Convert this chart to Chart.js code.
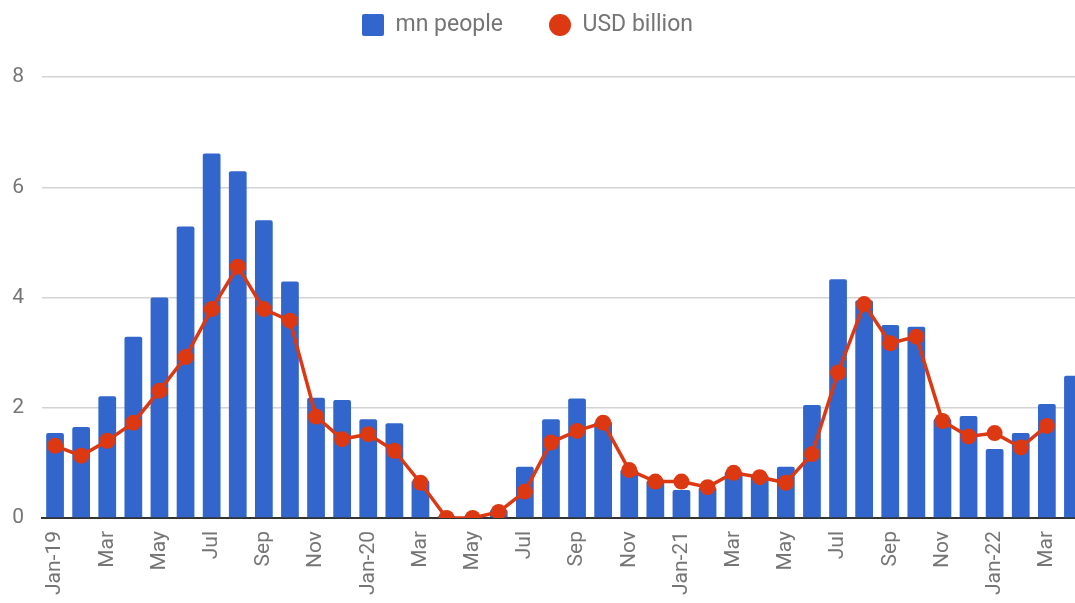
<!DOCTYPE html>
<html>
<head>
<meta charset="utf-8">
<script src="https://cdn.jsdelivr.net/npm/chart.js@4/dist/chart.umd.min.js"></script>
<style>
  html, body { margin: 0; padding: 0; background: #fff; overflow: hidden; }
  #wrap { width: 1094px; height: 640px; }
</style>
</head>
<body>
<div id="wrap"><canvas id="comboChart" width="1094" height="640"></canvas></div>
<script>
var months = ["Jan-19", "Feb", "Mar", "Apr", "May", "Jun", "Jul", "Aug", "Sep", "Oct", "Nov", "Dec",
              "Jan-20", "Feb", "Mar", "Apr", "May", "Jun", "Jul", "Aug", "Sep", "Oct", "Nov", "Dec",
              "Jan-21", "Feb", "Mar", "Apr", "May", "Jun", "Jul", "Aug", "Sep", "Oct", "Nov", "Dec",
              "Jan-22", "Feb", "Mar", "Apr"];

var mnPeople = [1.54, 1.65, 2.21, 3.29, 4.0, 5.29, 6.61, 6.29, 5.40, 4.29, 2.18, 2.14,
                1.79, 1.72, 0.68, 0.03, 0.03, 0.15, 0.93, 1.79, 2.17, 1.75, 0.88, 0.68,
                0.51, 0.56, 0.85, 0.78, 0.93, 2.05, 4.33, 3.95, 3.50, 3.47, 1.80, 1.85,
                1.25, 1.54, 2.07, 2.58];

var usdBillion = [1.31, 1.13, 1.40, 1.73, 2.31, 2.92, 3.79, 4.56, 3.79, 3.58, 1.84, 1.43,
                  1.52, 1.22, 0.64, 0.0, 0.0, 0.11, 0.48, 1.37, 1.58, 1.73, 0.87, 0.66,
                  0.66, 0.56, 0.82, 0.74, 0.64, 1.16, 2.64, 3.88, 3.17, 3.29, 1.76, 1.48,
                  1.54, 1.28, 1.67, null];

var yTicks = [0, 2, 4, 6, 8];

var blue = "#3366cc";
var red = "#dc3912";
var grey = "#757575";

// little square for the bar legend entry
var sq = document.createElement("canvas");
sq.width = 22; sq.height = 22;
(function () {
    var c = sq.getContext("2d");
    c.fillStyle = blue;
    c.beginPath();
    c.roundRect(0, 0, 22, 22, 2);
    c.fill();
})();

var legendLayout = {
    id: "legendLayout",
    beforeInit: function (chart) {
        var fit = chart.legend.fit;
        chart.legend.fit = function () {
            fit.bind(chart.legend)();
            this.height = 77;
        };
    },
    afterLayout: function (chart) {
        var lg = chart.legend;
        lg.top = 25 - 11.5 - lg.options.labels.padding;
        lg.left = 0;
        lg.right = 1055;
    }
};

var ctx = document.getElementById("comboChart").getContext("2d");
new Chart(ctx, {
    type: "bar",
    data: {
        labels: months,
        datasets: [{
            type: "bar",
            label: "mn people",
            data: mnPeople,
            backgroundColor: blue,
            borderRadius: 2,
            borderSkipped: "bottom",
            barPercentage: 0.68,
            categoryPercentage: 1,
            order: 1
        }, {
            type: "line",
            label: "USD billion",
            data: usdBillion,
            borderColor: red,
            backgroundColor: red,
            borderWidth: 3.5,
            pointRadius: 8,
            pointBackgroundColor: red,
            pointBorderWidth: 0,
            tension: 0,
            order: 0
        }]
    },
    options: {
        responsive: false,
        animation: false,
        layout: { padding: 0 },
        plugins: {
            tooltip: { enabled: false },
            legend: {
                position: "top",
                labels: {
                    usePointStyle: true,
                    boxWidth: 22,
                    boxHeight: 15.6,
                    padding: 46,
                    color: grey,
                    font: { family: "Roboto", size: 23 },
                    sort: function (a, b) { return a.datasetIndex - b.datasetIndex; },
                    generateLabels: function (chart) {
                        var items = Chart.defaults.plugins.legend.labels.generateLabels(chart);
                        items.forEach(function (it) {
                            it.pointStyle = it.datasetIndex === 0 ? sq : "circle";
                            it.lineWidth = 0;
                            it.fillStyle = it.datasetIndex === 0 ? blue : red;
                        });
                        return items;
                    }
                }
            }
        },
        scales: {
            x: {
                grid: { display: false, drawTicks: false },
                border: { display: true, color: "#333", width: 2 },
                ticks: {
                    autoSkip: false,
                    minRotation: 90,
                    maxRotation: 90,
                    padding: 13,
                    color: grey,
                    font: { family: "Roboto", size: 21 },
                    callback: function (v, i) { return i % 2 === 0 ? months[i] : ""; }
                },
                afterFit: function (s) {
                    s.height = 122;
                    s.paddingLeft = 0;
                    s.paddingRight = 0;
                }
            },
            y: {
                min: 0,
                max: 8,
                grid: { color: "#d3d3d3", lineWidth: 1.5, drawTicks: false },
                border: { display: false },
                afterBuildTicks: function (s) {
                    s.ticks = yTicks.map(function (v) { return { value: v }; });
                },
                ticks: {
                    padding: 18,
                    color: grey,
                    font: { family: "Roboto", size: 21 }
                },
                afterFit: function (s) { s.width = 42; }
            }
        }
    },
    plugins: [legendLayout]
});
</script>
</body>
</html>
